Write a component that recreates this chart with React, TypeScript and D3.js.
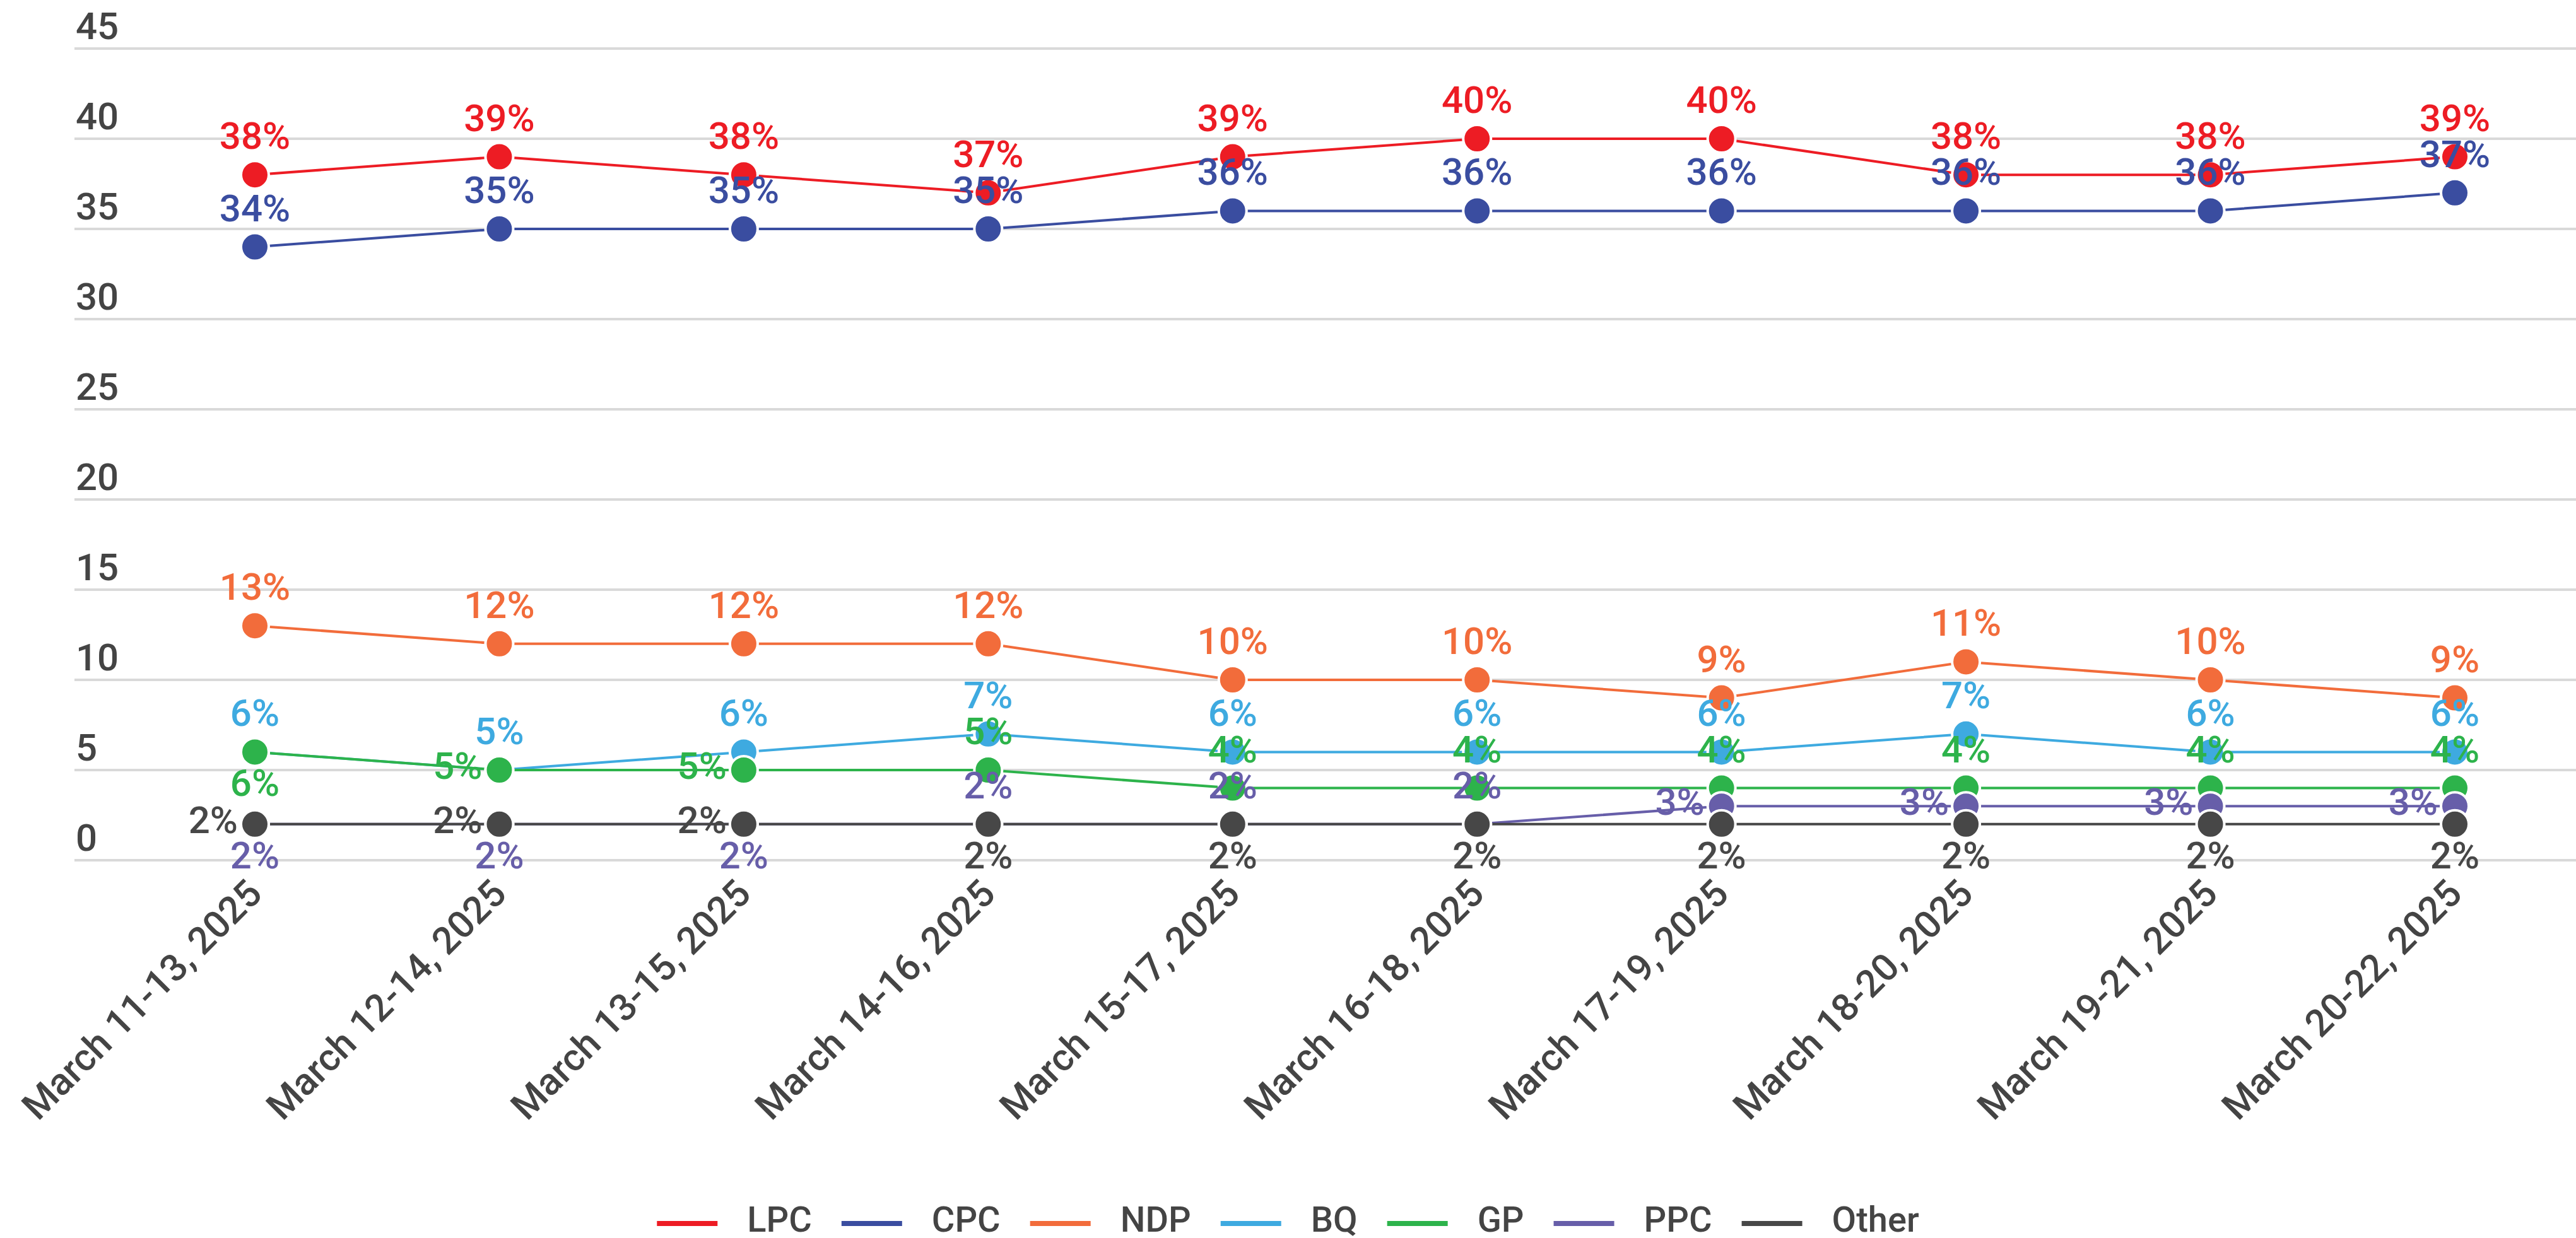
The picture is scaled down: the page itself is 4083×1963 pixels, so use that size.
import React, { useEffect, useRef } from 'react';
import * as d3 from 'd3';

// poll windows
const dates = [
  'March 11-13, 2025',
  'March 12-14, 2025',
  'March 13-15, 2025',
  'March 14-16, 2025',
  'March 15-17, 2025',
  'March 16-18, 2025',
  'March 17-19, 2025',
  'March 18-20, 2025',
  'March 19-21, 2025',
  'March 20-22, 2025',
];

const lpc = [38, 39, 38, 37, 39, 40, 40, 38, 38, 39];
const cpc = [34, 35, 35, 35, 36, 36, 36, 36, 36, 37];
const ndp = [13, 12, 12, 12, 10, 10, 9, 11, 10, 9];
const bq = [6, 5, 6, 7, 6, 6, 6, 7, 6, 6];
const gp = [6, 5, 5, 5, 4, 4, 4, 4, 4, 4];
const ppc = [2, 2, 2, 2, 2, 2, 3, 3, 3, 3];
const other = [2, 2, 2, 2, 2, 2, 2, 2, 2, 2];

const yTicks = [0, 5, 10, 15, 20, 25, 30, 35, 40, 45];

const seriesNames = ['LPC', 'CPC', 'NDP', 'BQ', 'GP', 'PPC', 'Other'];
const seriesColors = ['#ed1c24', '#3a4da0', '#f26c3b', '#3eaae0', '#2db34b', '#675ea9', '#474747'];

// where the datalabel sits relative to its point
const top10 = Array(10).fill('top');
const gpLabelPos = ['bottom', 'left', 'left', 'top', 'top', 'top', 'top', 'top', 'top', 'top'];
const ppcLabelPos = ['bottom', 'bottom', 'bottom', 'top', 'top', 'top', 'left', 'left', 'left', 'left'];
const otherLabelPos = ['left', 'left', 'left', 'bottom', 'bottom', 'bottom', 'bottom', 'bottom', 'bottom', 'bottom'];

const W = 4083;
const H = 1963;
const FONT = 'Roboto, "Noto Sans", sans-serif';
const TEXT = '#444444';

export default function App() {
  const ref = useRef<SVGSVGElement | null>(null);

  useEffect(() => {
    if (!ref.current) return;
    const svg = d3.select(ref.current);
    svg.selectAll('*').remove();

    const series = [
      { name: seriesNames[0], values: lpc, color: seriesColors[0], pos: top10 },
      { name: seriesNames[1], values: cpc, color: seriesColors[1], pos: top10 },
      { name: seriesNames[2], values: ndp, color: seriesColors[2], pos: top10 },
      { name: seriesNames[3], values: bq, color: seriesColors[3], pos: top10 },
      { name: seriesNames[4], values: gp, color: seriesColors[4], pos: gpLabelPos },
      { name: seriesNames[5], values: ppc, color: seriesColors[5], pos: ppcLabelPos },
      { name: seriesNames[6], values: other, color: seriesColors[6], pos: otherLabelPos },
    ];

    const x = d3.scalePoint<string>().domain(dates).range([404, 3891]);
    const y = d3.scaleLinear().domain([0, 45]).range([1364, 77]);

    svg.append('rect').attr('width', W).attr('height', H).attr('fill', '#ffffff');

    // gridlines + y labels
    const grid = svg.append('g');
    grid.selectAll('line')
      .data(yTicks)
      .join('line')
      .attr('x1', 118)
      .attr('x2', W)
      .attr('y1', d => y(d))
      .attr('y2', d => y(d))
      .attr('stroke', '#d9d9d9')
      .attr('stroke-width', 4);

    grid.selectAll('text')
      .data(yTicks)
      .join('text')
      .attr('x', 120)
      .attr('y', d => y(d) - 15)
      .attr('fill', TEXT)
      .style('font-family', FONT)
      .style('font-weight', 500)
      .style('font-size', '60px')
      .text(d => String(d));

    // x labels, rotated
    svg.append('g')
      .selectAll('text')
      .data(dates)
      .join('text')
      .attr('transform', d => `translate(${x(d)},1406) rotate(-45)`)
      .attr('text-anchor', 'end')
      .attr('dominant-baseline', 'central')
      .attr('fill', TEXT)
      .style('font-family', FONT)
      .style('font-weight', 500)
      .style('font-size', '60px')
      .text(d => d);

    const line = d3.line<number>()
      .x((_, i) => x(dates[i])!)
      .y(d => y(d));

    // lines
    svg.append('g')
      .selectAll('path')
      .data(series)
      .join('path')
      .attr('d', s => line(s.values))
      .attr('fill', 'none')
      .attr('stroke', s => s.color)
      .attr('stroke-width', 4);

    // points
    series.forEach(s => {
      svg.append('g')
        .selectAll('circle')
        .data(s.values)
        .join('circle')
        .attr('cx', (_, i) => x(dates[i])!)
        .attr('cy', d => y(d))
        .attr('r', 22)
        .attr('fill', s.color)
        .attr('stroke', '#ffffff')
        .attr('stroke-width', 4);
    });

    // datalabels
    series.forEach(s => {
      svg.append('g')
        .selectAll('text')
        .data(s.values)
        .join('text')
        .attr('x', (_, i) => {
          const cx = x(dates[i])!;
          return s.pos[i] === 'left' ? cx - 27 : cx;
        })
        .attr('y', (d, i) => {
          const p = s.pos[i];
          if (p === 'top') return y(d) - 41;
          if (p === 'bottom') return y(d) + 70;
          return y(d) + 14;
        })
        .attr('text-anchor', (_, i) => (s.pos[i] === 'left' ? 'end' : 'middle'))
        .attr('fill', s.color)
        .style('font-family', FONT)
        .style('font-weight', 500)
        .style('font-size', '60px')
        .text(d => `${d}%`);
    });

    // legend
    const legend = svg.append('g');
    const swatchW = 96;
    const gap = 47;
    const items = legend.selectAll('g')
      .data(series)
      .join('g');
    items.append('rect')
      .attr('width', swatchW)
      .attr('height', 8)
      .attr('y', -4)
      .attr('fill', s => s.color);
    const labels = items.append('text')
      .attr('x', swatchW + gap)
      .attr('y', -6)
      .attr('dominant-baseline', 'central')
      .attr('fill', TEXT)
      .style('font-family', FONT)
      .style('font-weight', 500)
      .style('font-size', '56px')
      .text(s => s.name);

    const widths: number[] = [];
    labels.each(function () {
      widths.push((this as SVGTextElement).getComputedTextLength());
    });
    const itemW = widths.map(w => swatchW + gap + w);
    const total = d3.sum(itemW) + gap * (itemW.length - 1);
    let cursor = W / 2 - total / 2;
    const offsets = itemW.map(w => {
      const o = cursor;
      cursor += w + gap;
      return o;
    });
    items.attr('transform', (_, i) => `translate(${offsets[i]},1940)`);
  }, []);

  return (
    <svg
      ref={ref}
      width={W}
      height={H}
      style={{ position: 'absolute', left: 0, top: 0, display: 'block' }}
    />
  );
}
